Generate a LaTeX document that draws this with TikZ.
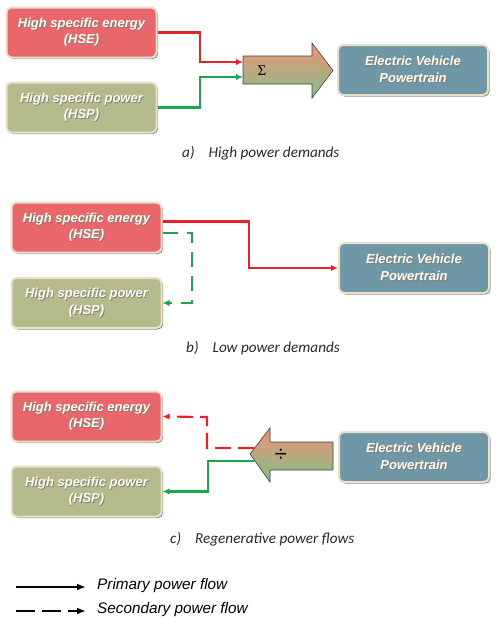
\documentclass[tikz,border=0pt]{standalone}
\usepackage{fontspec}
\setmainfont{Liberation Sans}
\newfontfamily\capfont{Carlito}
\newfontfamily\symfont{Liberation Serif}
\usetikzlibrary{shadows,arrows.meta}
\definecolor{hsered}{RGB}{233,102,107}
\definecolor{hspgreen}{RGB}{180,186,140}
\definecolor{evblue}{RGB}{111,151,166}
\definecolor{boxborder}{RGB}{234,223,202}
\definecolor{flowred}{RGB}{230,35,42}
\definecolor{flowgreen}{RGB}{30,165,80}
\definecolor{arrtop}{RGB}{243,144,118}
\definecolor{arrbot}{RGB}{128,194,136}
\definecolor{captext}{RGB}{40,40,40}
\newcommand\shtxt[1]{\leavevmode\rlap{\kern0.9pt\raisebox{-0.9pt}{\textcolor{black!50}{#1}}}#1}
\begin{document}
\begin{tikzpicture}[x=1pt,y=-1pt,
  box/.style={rounded corners=5pt, draw=boxborder, line width=2pt,
    minimum width=150pt, minimum height=50pt, align=center, inner sep=0pt,
    font=\fontsize{13}{16.5}\selectfont\bfseries\itshape, text=white!92!yellow,
    drop shadow={shadow xshift=1.5pt, shadow yshift=-1.5pt, opacity=0.45, fill=black}},
  hse/.style={box, fill=hsered},
  hsp/.style={box, fill=hspgreen},
  ev/.style={box, fill=evblue},
  tipa/.style={-{Latex[length=7pt,width=6.5pt]}},
  redflow/.style={tipa, draw=flowred, line width=2.1pt},
  greenflow/.style={tipa, draw=flowgreen, line width=2.1pt},
  reddash/.style={redflow, dash pattern=on 16pt off 7pt},
  greendash/.style={greenflow, dash pattern=on 15pt off 9pt},
  blockarrow/.style={top color=arrtop, bottom color=arrbot, draw=black!75, line width=0.6pt},
  caption/.style={anchor=west, inner sep=0pt, text=captext, font=\capfont\itshape\fontsize{15.2}{18}\selectfont},
  legend/.style={anchor=west, inner sep=0pt, font=\itshape\fontsize{15.3}{18}\selectfont},
  legsolid/.style={-{Latex[length=9pt,width=7pt]}, line width=2pt},
  legdash/.style={legsolid, dash pattern=on 19pt off 7pt}
]
\useasboundingbox (0,0) rectangle (499,624);

% ---------- panel a ----------
\node[hse] (aHSE) at (81.5,32.5) {\shtxt{High specific energy}\\\shtxt{(HSE)}};
\node[hsp] (aHSP) at (81.5,107.5) {\shtxt{High specific power}\\\shtxt{(HSP)}};
\node[ev] (aEV) at (413,70) {\shtxt{Electric Vehicle}\\\shtxt{Powertrain}};
\shade[blockarrow] (243,56) -- (312,56) -- (312,43) -- (333,70.5) -- (312,98) -- (312,84) -- (243,84) -- cycle;
\node (sum) at (262,71) {\symfont\fontsize{15}{15}\selectfont Σ};
\coordinate (ain1) at (243,62);
\coordinate (ain2) at (243,77);
\draw[redflow] (aHSE.east) -| (200,62) -- (ain1);
\draw[greenflow] (aHSP.east) -| (200,77) -- (ain2);
\node[caption] (capa) at (182,153) {a)\hspace{14pt}High power demands};

% ---------- panel b ----------
\node[hse] (bHSE) at (86.5,227.5) {\shtxt{High specific energy}\\\shtxt{(HSE)}};
\node[hsp] (bHSP) at (86.5,303) {\shtxt{High specific power}\\\shtxt{(HSP)}};
\node[ev] (bEV) at (414,268) {\shtxt{Electric Vehicle}\\\shtxt{Powertrain}};
\draw[redflow] ([yshift=6pt]bHSE.east) -| (249,268) -- (bEV.west);
\draw[greendash] ([yshift=-5.5pt]bHSE.east) -| (192,303) -- (bHSP.east);
\node[caption] (capb) at (186,348) {b)\hspace{14pt}Low power demands};

% ---------- panel c ----------
\node[hse] (cHSE) at (86.5,416.5) {\shtxt{High specific energy}\\\shtxt{(HSE)}};
\node[hsp] (cHSP) at (86.5,491.5) {\shtxt{High specific power}\\\shtxt{(HSP)}};
\node[ev] (cEV) at (414,457) {\shtxt{Electric Vehicle}\\\shtxt{Powertrain}};
\shade[blockarrow] (333,442) -- (270,442) -- (270,428) -- (250,454) -- (270,482) -- (270,470) -- (333,470) -- cycle;
\node (div) at (281,455) {\fontsize{22}{22}\selectfont ÷};
\coordinate (cout1) at (254,448);
\coordinate (cout2) at (254,461);
\draw[reddash] (cout1) -| (207,417) -- (cHSE.east);
\draw[greenflow] (cout2) -| (208,491.5) -- (cHSP.east);
\node[caption] (capc) at (170,539) {c)\hspace{14pt}Regenerative power flows};

% ---------- legend ----------
\coordinate (l1s) at (16,587);
\coordinate (l1e) at (86,587);
\coordinate (l2s) at (16,611);
\coordinate (l2e) at (86,611);
\draw[legsolid] (l1s) -- (l1e);
\draw[legdash] (l2s) -- (l2e);
\node[legend] (leg1) at (97,586) {Primary power flow};
\node[legend] (leg2) at (97,610) {Secondary power flow};
\end{tikzpicture}
\end{document}
